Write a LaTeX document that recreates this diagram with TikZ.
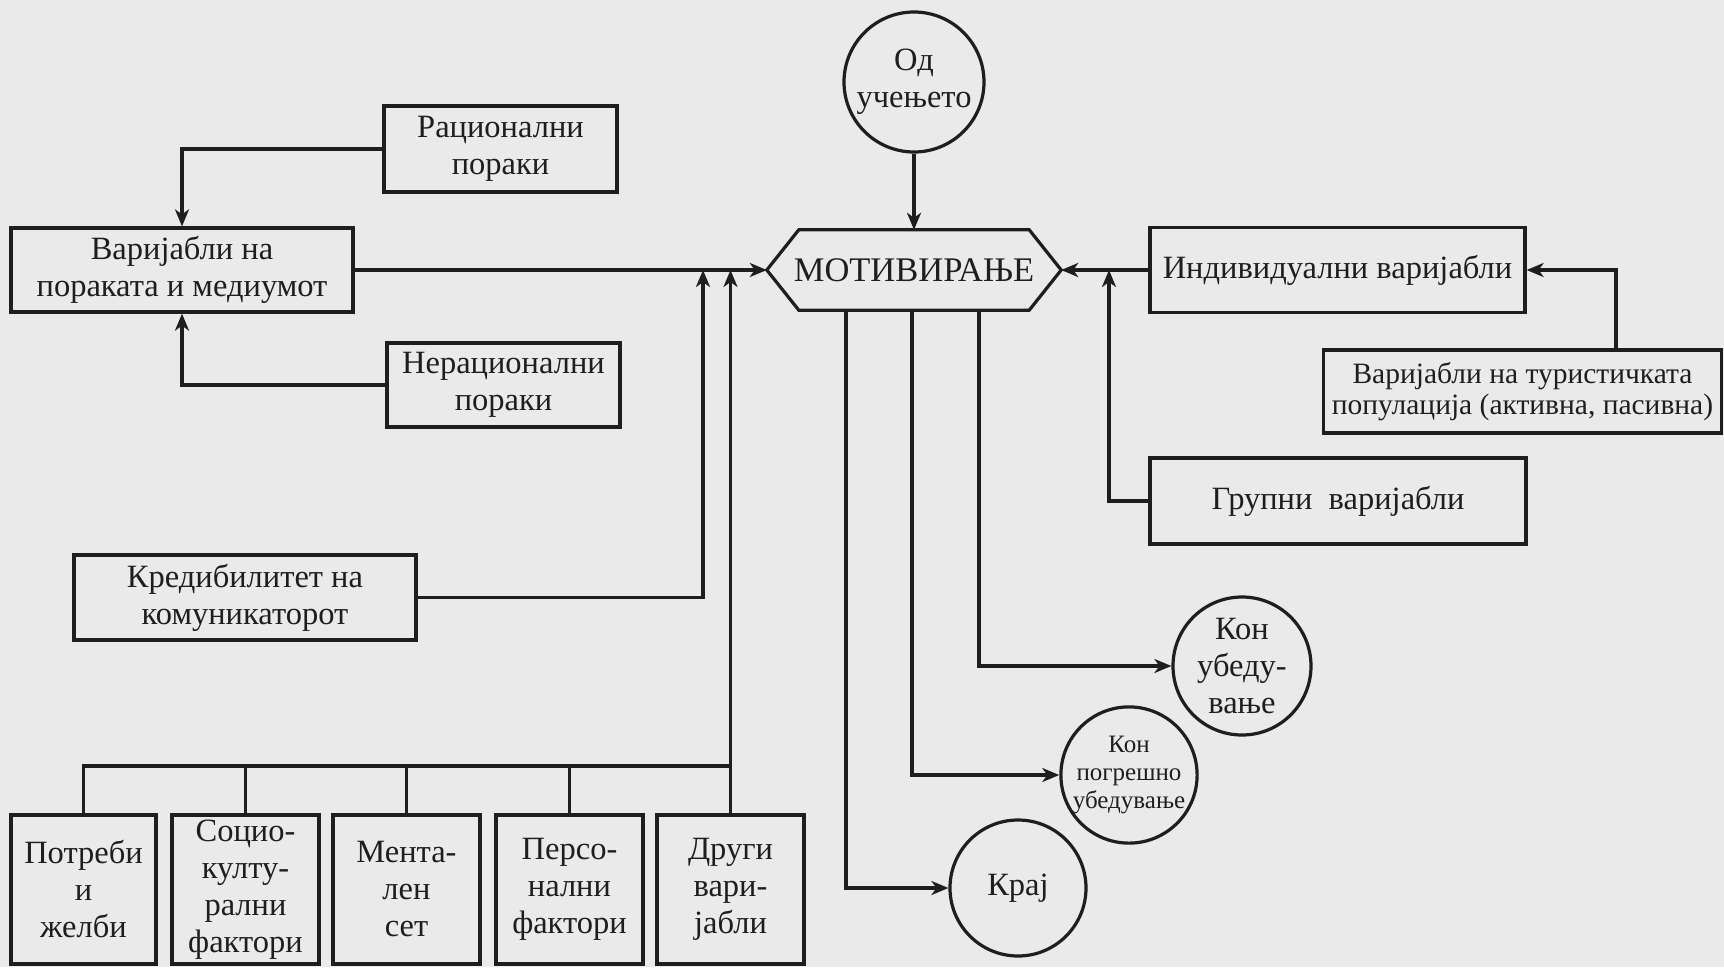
\documentclass[tikz,border=0pt]{standalone}
\usepackage{fontspec}
\setmainfont{Liberation Serif}
\usetikzlibrary{arrows.meta}
\definecolor{bgc}{RGB}{234,234,234}
\definecolor{ink}{RGB}{30,30,30}
\tikzset{
  box/.style={draw=ink, line width=3.2pt, inner sep=0pt, align=center, text=ink,
    font=\fontsize{32.5}{37}\selectfont},
  circ/.style={draw=ink, line width=3.2pt, circle, inner sep=0pt, align=center, text=ink,
    font=\fontsize{32.5}{37}\selectfont},
  wire/.style={draw=ink, line width=3.2pt},
  arr/.style={wire, -{Stealth[length=17pt,width=14pt,inset=5pt]}},
}
\begin{document}
\begin{tikzpicture}[x=1pt,y=-1pt]
\fill[bgc] (0,0) rectangle (1724,967);
\useasboundingbox (0,0) rectangle (1724,967);

% top circle and hexagon
\node[circ, minimum size=140pt] (od) at (914,82) {Од\\учењето};
\node[inner sep=0pt, minimum width=294pt, minimum height=80pt, text=ink,
  font=\fontsize{34.5}{38}\selectfont] (mot) at (914,270) {МОТИВИРАЊЕ};
\draw[wire, line join=miter] (mot.west) -- ([xshift=32pt]mot.north west) -- ([xshift=-32pt]mot.north east)
  -- (mot.east) -- ([xshift=-32pt]mot.south east) -- ([xshift=32pt]mot.south west) -- cycle;

% left boxes
\node[box, minimum width=233pt, minimum height=86pt] (rac) at (500.5,149) {Рационални\\пораки};
\node[box, minimum width=342pt, minimum height=84pt] (var) at (182,270) {Варијабли на\\пораката и медиумот};
\node[box, minimum width=233pt, minimum height=84pt] (nerac) at (503.5,385) {Нерационални\\пораки};
\node[box, minimum width=342pt, minimum height=85pt] (kred) at (245,597.5) {Кредибилитет на\\комуникаторот};

% right boxes
\node[box, minimum width=375pt, minimum height=85pt] (ind) at (1337.5,270) {Индивидуални варијабли};
\node[box, minimum width=398pt, minimum height=83pt, font=\fontsize{29.5}{31}\selectfont] (tur) at (1522.5,391.5)
  {Варијабли на туристичката\\популација (активна, пасивна)};
\node[box, minimum width=376pt, minimum height=86pt] (grup) at (1338,501) {Групни\ \ варијабли};

% bottom boxes
\node[box, minimum width=145pt, minimum height=149pt] (b1) at (83.5,889.5) {Потреби\\и\\желби};
\node[box, minimum width=147pt, minimum height=149pt] (b2) at (245.5,889.5) {Социо-\\култу-\\рални\\фактори};
\node[box, minimum width=147pt, minimum height=149pt] (b3) at (406.5,889.5) {Мента-\\лен\\сет};
\node[box, minimum width=147pt, minimum height=149pt] (b4) at (569.5,889.5) {Персо-\\нални\\фактори};
\node[box, minimum width=147pt, minimum height=149pt] (b5) at (730.5,889.5) {Други\\вари-\\јабли};

% output circles
\node[circ, minimum size=138pt] (kub) at (1242,666) {Кон\\убеду-\\вање};
\node[circ, minimum size=136pt, font=\fontsize{25}{28}\selectfont] (kpog) at (1129,775) {Кон\\погрешно\\убедување};
\node[circ, minimum size=136pt] (kraj) at (1018,888) {Крај};

% junction coordinates
\coordinate (j1) at (703,270);
\coordinate (j3) at (1109,270);
\coordinate (busR) at (730.5,766);

% connectors left side
\draw[arr] (rac.west) -| (var.north);
\draw[arr] (nerac.west) -| (var.south);
\draw[arr] (var.east) -- (mot.west);
\draw[arr] (kred.east) -| (j1);
\draw[arr] (b5.north) -- (b5.north |- var.east);
\draw[wire] (b1.north) |- (busR);
\draw[wire] (b2.north) -- (b2.north |- busR);
\draw[wire] (b3.north) -- (b3.north |- busR);
\draw[wire] (b4.north) -- (b4.north |- busR);

% top
\draw[arr] (od.south) -- (mot.north);

% right side
\draw[arr] (ind.west) -- (mot.east);
\draw[arr] (grup.west) -| (j3);
\draw[arr] ([xshift=93.5pt]tur.north) |- (ind.east);

% outputs
\draw[arr] ([xshift=65pt]mot.south) |- (kub.west);
\draw[arr] ([xshift=-2pt]mot.south) |- (kpog.west);
\draw[arr] ([xshift=-68pt]mot.south) |- (kraj.west);
\end{tikzpicture}
\end{document}
